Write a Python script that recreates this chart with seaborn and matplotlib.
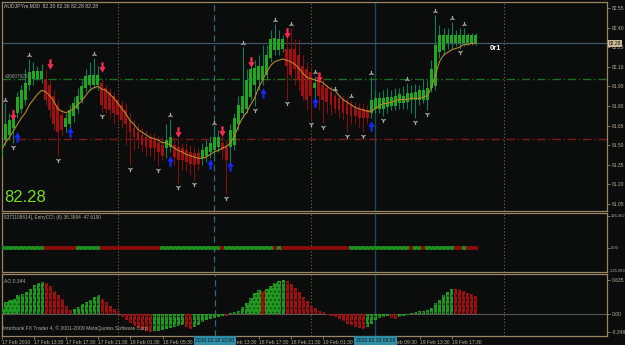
import matplotlib
matplotlib.use("Agg")
import matplotlib.pyplot as plt
from matplotlib.path import Path
from matplotlib.markers import MarkerStyle
from matplotlib import transforms
import seaborn as sns

# ---------------- data ----------------
bar_open = [81.40, 81.54, 81.58, 81.63, 81.75, 81.78, 81.85, 81.96, 82.01, 82.01,
            82.01, 82.01, 81.96, 81.88, 81.81, 81.73, 81.64, 81.66, 81.72, 81.78,
            81.85, 81.94, 81.96, 81.96, 81.96, 81.98, 81.94, 81.91, 81.88, 81.85,
            81.81, 81.77, 81.69, 81.63, 81.60, 81.58, 81.56, 81.56, 81.54, 81.52,
            81.50, 81.48, 81.49, 81.50, 81.49, 81.48, 81.46, 81.45, 81.44, 81.44,
            81.40, 81.42, 81.45, 81.46, 81.49, 81.52, 81.49, 81.49, 81.50, 81.66,
            81.75, 81.78, 81.87, 81.96, 82.00, 82.00, 82.04, 82.17, 82.23, 82.23,
            82.24, 82.24, 82.24, 82.24, 82.19, 82.11, 82.08, 82.06, 81.94, 82.00,
            81.96, 81.94, 81.91, 81.88, 81.86, 81.85, 81.82, 81.81, 81.79, 81.78,
            81.78, 81.77, 81.75, 81.78, 81.78, 81.78, 81.79, 81.80, 81.80, 81.82,
            81.82, 81.83, 81.85, 81.85, 81.85, 81.85, 81.85, 81.94, 81.95, 82.21,
            82.23, 82.28, 82.28, 82.28, 82.28, 82.28, 82.28, 82.28, 82.28]
bar_high = [81.54, 81.82, 81.75, 81.78, 81.91, 81.96, 82.08, 82.16, 82.14, 82.11,
            82.12, 82.08, 82.00, 81.92, 81.85, 81.78, 81.75, 81.81, 81.87, 81.94,
            82.00, 82.08, 82.14, 82.17, 82.11, 82.01, 81.96, 81.94, 81.91, 81.88,
            81.85, 81.82, 81.75, 81.69, 81.66, 81.63, 81.62, 81.59, 81.59, 81.57,
            81.56, 81.66, 81.70, 81.56, 81.54, 81.52, 81.52, 81.50, 81.49, 81.48,
            81.52, 81.54, 81.57, 81.64, 81.62, 81.58, 81.54, 81.66, 81.75, 81.88,
            82.25, 82.08, 82.14, 82.15, 82.19, 82.27, 82.27, 82.38, 82.43, 82.38,
            82.34, 82.40, 82.40, 82.31, 82.31, 82.19, 82.14, 82.11, 82.03, 82.04,
            82.00, 81.97, 81.95, 81.90, 81.89, 81.88, 81.86, 81.85, 81.83, 81.82,
            81.82, 81.81, 82.02, 81.92, 81.91, 81.92, 81.94, 81.92, 81.94, 81.94,
            81.95, 81.98, 81.96, 81.97, 81.96, 82.01, 82.00, 82.15, 82.50, 82.42,
            82.40, 82.40, 82.44, 82.38, 82.40, 82.40, 82.36, 82.36, 82.36]
bar_low = [81.31, 81.50, 81.54, 81.52, 81.71, 81.75, 81.81, 81.92, 81.96, 82.00,
           81.98, 81.81, 81.71, 81.62, 81.42, 81.58, 81.60, 81.62, 81.68, 81.75,
           81.82, 81.91, 81.92, 81.94, 81.92, 81.75, 81.75, 81.71, 81.66, 81.68,
           81.63, 81.50, 81.35, 81.46, 81.48, 81.45, 81.42, 81.42, 81.39, 81.34,
           81.39, 81.40, 81.45, 81.35, 81.21, 81.31, 81.30, 81.27, 81.23, 81.31,
           81.35, 81.37, 81.40, 81.42, 81.45, 81.39, 81.13, 81.35, 81.46, 81.62,
           81.71, 81.75, 81.85, 81.80, 81.92, 81.96, 82.00, 82.14, 82.19, 82.19,
           82.21, 81.85, 82.00, 81.96, 81.92, 81.85, 81.77, 81.69, 81.81, 81.77,
           81.67, 81.75, 81.73, 81.75, 81.71, 81.69, 81.60, 81.66, 81.66, 81.63,
           81.60, 81.66, 81.71, 81.75, 81.75, 81.72, 81.75, 81.77, 81.77, 81.78,
           81.78, 81.78, 81.75, 81.71, 81.81, 81.82, 81.77, 81.91, 81.92, 82.17,
           82.19, 82.24, 82.24, 82.26, 82.24, 82.26, 82.27, 82.27, 82.27]
bar_close = [81.52, 81.66, 81.69, 81.73, 81.87, 81.92, 81.98, 82.06, 82.07, 82.07,
             82.07, 81.85, 81.77, 81.66, 81.60, 81.62, 81.71, 81.77, 81.82, 81.88,
             81.95, 82.03, 82.04, 82.04, 82.04, 81.81, 81.78, 81.77, 81.75, 81.73,
             81.69, 81.66, 81.60, 81.56, 81.54, 81.50, 81.49, 81.48, 81.48, 81.45,
             81.42, 81.54, 81.56, 81.41, 81.39, 81.39, 81.37, 81.36, 81.35, 81.36,
             81.46, 81.49, 81.52, 81.56, 81.56, 81.46, 81.39, 81.62, 81.71, 81.81,
             81.88, 82.00, 82.08, 82.09, 82.11, 82.11, 82.19, 82.31, 82.32, 82.31,
             82.31, 82.11, 82.04, 82.08, 82.00, 81.88, 81.85, 81.88, 81.98, 81.88,
             81.85, 81.83, 81.81, 81.78, 81.77, 81.75, 81.74, 81.72, 81.72, 81.71,
             81.71, 81.71, 81.85, 81.86, 81.86, 81.86, 81.87, 81.87, 81.88, 81.89,
             81.88, 81.90, 81.90, 81.91, 81.92, 81.92, 81.94, 82.08, 82.27, 82.34,
             82.34, 82.34, 82.34, 82.34, 82.34, 82.34, 82.34, 82.34, 82.34]
ma_values = [81.46, 81.52, 81.56, 81.61, 81.66, 81.71, 81.75, 81.81, 81.85, 81.89,
             81.92, 81.91, 81.88, 81.84, 81.78, 81.76, 81.75, 81.76, 81.78, 81.81,
             81.84, 81.88, 81.92, 81.94, 81.95, 81.93, 81.92, 81.89, 81.86, 81.82,
             81.78, 81.74, 81.69, 81.66, 81.62, 81.60, 81.58, 81.56, 81.55, 81.54,
             81.52, 81.52, 81.50, 81.48, 81.46, 81.45, 81.43, 81.42, 81.41, 81.40,
             81.40, 81.41, 81.43, 81.45, 81.46, 81.48, 81.49, 81.52, 81.57, 81.65,
             81.71, 81.75, 81.81, 81.86, 81.94, 82.00, 82.06, 82.11, 82.14, 82.15,
             82.16, 82.15, 82.14, 82.12, 82.09, 82.05, 82.02, 82.01, 82.00, 81.99,
             81.98, 81.95, 81.93, 81.92, 81.88, 81.85, 81.83, 81.81, 81.79, 81.78,
             81.77, 81.76, 81.76, 81.78, 81.80, 81.82, 81.82, 81.83, 81.84, 81.85,
             81.85, 81.85, 81.86, 81.86, 81.86, 81.87, 81.88, 81.94, 82.04, 82.14,
             82.19, 82.21, 82.23, 82.24, 82.25, 82.27, 82.27, 82.28, 82.28]
ao_values = [0.12, 0.23, 0.27, 0.28, 0.35, 0.38, 0.41, 0.47, 0.55, 0.59, 0.61,
             0.58, 0.52, 0.44, 0.35, 0.28, 0.16, 0.08,
             0.09, 0.14, 0.18, 0.23, 0.27, 0.32, 0.35,
             0.28, 0.22, 0.15, 0.10, 0.05,
             -0.05, -0.11, -0.17, -0.22, -0.27, -0.31, -0.33, -0.348,
             -0.33, -0.32, -0.30, -0.28, -0.26, -0.24, -0.22, -0.21,
             -0.24, -0.28,
             -0.24, -0.20, -0.16, -0.12, -0.09, -0.07, -0.05, -0.03,
             -0.04,
             0.01, 0.03, 0.06, 0.13, 0.20, 0.30, 0.40, 0.45,
             0.44,
             0.48, 0.53, 0.58, 0.62, 0.635,
             0.62, 0.56, 0.50, 0.42, 0.33, 0.25, 0.16, 0.11, 0.06, 0.03,
             -0.01, -0.03, -0.06, -0.10, -0.14, -0.18, -0.21, -0.24, -0.26, -0.28,
             -0.24, -0.18, -0.12, -0.08, -0.06, -0.04,
             -0.08, -0.09,
             -0.05, -0.03, -0.01, 0.02, 0.03, 0.05, 0.06, 0.07, 0.12, 0.21, 0.27, 0.35, 0.42, 0.48,
             0.47, 0.45, 0.43, 0.40, 0.37, 0.344]
cci_state = ("GGGGGGGGGGG" "RRRRRRRR" "GGGGGG" "RRRRRRRRRRRRRRR" "GGGGGGGGGGGGGGG"
             "R" "GGGGGGGGGGGG" "R" "G" "RRRRRRRRRRRRRRRRR" "GGGGGGGGGGGGGGG"
             "R" "GG" "R" "GGGGGGG" "RR" "G" "RRR")
up_fractal_bars = [1, 7, 23, 42, 53, 60, 68, 72, 78, 83, 87, 92, 101, 108, 112, 115]
down_fractal_bars = [3, 14, 25, 32, 39, 44, 48, 56, 63, 71, 77, 80, 86, 90, 95, 103, 106, 114]
sell_arrow_bars = [3, 12, 25, 44, 55, 62, 71, 79]
sell_arrow_prices = [81.73, 82.12, 82.10, 81.60, 81.61, 82.14, 82.36, 82.02]
buy_arrow_bars = [4, 17, 42, 52, 57, 65, 78, 92]
buy_arrow_prices = [81.56, 81.60, 81.38, 81.36, 81.34, 81.90, 81.83, 81.65]

# labels at bars 48 and 88 lie under the highlighted time boxes, so they are omitted
time_tick_bars = [0, 8, 16, 24, 32, 40, 56, 64, 72, 80, 96, 104, 112]
time_tick_labels = ["17 Feb 2010", "17 Feb 13:30", "17 Feb 17:30", "17 Feb 21:30",
                    "18 Feb 01:30", "18 Feb 05:30", "18 Feb 13:30",
                    "18 Feb 17:30", "18 Feb 21:30", "19 Feb 01:30",
                    "19 Feb 09:30", "19 Feb 13:30", "19 Feb 17:30"]
price_ticks = [82.55, 82.40, 82.25, 82.10, 81.95, 81.80, 81.65, 81.50, 81.35, 81.20, 81.05]
day_separator_bars = [29, 77, 125]
marker_line_bars = [53, 93]
marker_line_labels = ["2010.02.18 12:00", "2010.02.19 08:00"]
green_level = 82.01
red_level = 81.55
last_price = 82.28
cci_ticks = [126.462, 0.0]
cci_tick_labels = ["126.462", "0.00"]
cci_min_label = "-225.069"
ao_ticks = [0.635, 0.0, -0.348]
ao_tick_labels = ["0.635", "0.00", "-0.348"]

# ---------------- style ----------------
BG = "#0b0c0c"
FRAME = "#9a8464"
TXT = "#b4ac9c"
BULL, BEAR = "#1fa81f", "#a30f0f"
BULL_W, BEAR_W = "#127a55", "#7a1212"

sns.set_theme(style="dark", rc={"axes.facecolor": BG, "figure.facecolor": BG,
                                "axes.edgecolor": FRAME, "axes.grid": False})
plt.rcParams['font.family'] = ['Liberation Sans', 'DejaVu Sans']
plt.rcParams['hatch.linewidth'] = 0.6

W, H = 625, 345
fig = plt.figure(figsize=(W / 100, H / 100), dpi=100)


def frac(x0, y0, x1, y1):
    return [x0 / W, 1 - y1 / H, (x1 - x0) / W, (y1 - y0) / H]


ax = fig.add_axes(frac(2, 2, 607, 211))
ax_cci = fig.add_axes(frac(2, 213, 607, 272))
ax_ao = fig.add_axes(frac(2, 274, 607, 336))

n = len(bar_close)
bars = list(range(n))
XL = (0.17, 150.67)

for a in (ax, ax_cci, ax_ao):
    a.set_facecolor(BG)
    a.set_xlim(*XL)
    for s in a.spines.values():
        s.set_color(FRAME)
        s.set_linewidth(0.9)
    a.yaxis.tick_right()
    a.tick_params(axis='y', colors=FRAME, labelcolor=TXT, labelsize=3.6,
                  length=2, width=0.6, pad=1.2, right=True, left=False)
    a.tick_params(axis='x', bottom=False, labelbottom=False)
    for b in day_separator_bars:
        a.axvline(b, color="#7a6446", lw=0.8, ls=(0, (1, 2)), zorder=1)
    a.axvline(marker_line_bars[0], color="#2b6a80", lw=0.9, ls=(0, (5, 3)), zorder=1)
    a.axvline(marker_line_bars[1], color="#1b4a56", lw=1.0, zorder=1)

# ---- main price panel ----
ax.set_ylim(80.997, 82.596)
ax.set_yticks(price_ticks)
ax.set_yticklabels([f"{p:.2f}" for p in price_ticks])
ax.axhline(last_price, color="#3c5868", lw=0.9, zorder=1)
ax.axhline(green_level, color="#1a701a", lw=1.0, ls=(0, (6, 2, 1, 2)), zorder=1)
ax.axhline(red_level, color="#7e1a1a", lw=1.0, ls=(0, (6, 2, 1, 2)), zorder=1)

bull = [c >= o for o, c in zip(bar_open, bar_close)]
ax.vlines(bars, bar_low, bar_high, colors=[BULL_W if b else BEAR_W for b in bull],
          lw=0.8, zorder=2)
ax.bar(bars, [abs(c - o) for o, c in zip(bar_open, bar_close)],
       bottom=[min(o, c) for o, c in zip(bar_open, bar_close)], width=0.72,
       color=[BULL if b else BEAR for b in bull], linewidth=0, zorder=3)

sns.lineplot(x=bars, y=ma_values, color="#b8882a", lw=0.8, ax=ax, zorder=4)

ax.scatter(up_fractal_bars, [bar_high[i] + 0.03 for i in up_fractal_bars],
           marker='2', s=14, color="#a6a6a6", linewidths=0.9, zorder=5)
ax.scatter(down_fractal_bars, [bar_low[i] - 0.03 for i in down_fractal_bars],
           marker='1', s=14, color="#a6a6a6", linewidths=0.9, zorder=5)

down_verts = [(-0.22, 1.0), (0.22, 1.0), (0.22, 0.05), (0.62, 0.05), (0.0, -1.0),
              (-0.62, 0.05), (-0.22, 0.05), (-0.22, 1.0)]
codes = [Path.MOVETO] + [Path.LINETO] * 6 + [Path.CLOSEPOLY]
down_arrow = MarkerStyle(Path(down_verts, codes))
up_arrow = MarkerStyle(Path([(x, -y) for x, y in down_verts], codes))
sns.scatterplot(x=sell_arrow_bars, y=sell_arrow_prices, marker=down_arrow, s=55,
                color="#ff2a50", linewidth=0, ax=ax, zorder=6)
sns.scatterplot(x=buy_arrow_bars, y=buy_arrow_prices, marker=up_arrow, s=55,
                color="#1428ff", linewidth=0, ax=ax, zorder=6)

ax.text(1.003, last_price, f"{last_price:.2f}",
        transform=transforms.blended_transform_factory(ax.transAxes, ax.transData),
        ha='left', va='center', fontsize=3.6, color="#101010", zorder=10, clip_on=False,
        bbox=dict(boxstyle='square,pad=0.25', fc="#cbb994", ec='none'))

fig.text(4 / W, 1 - 5.5 / H, "AUDJPYm,M30  82.30 82.36 82.28 82.28", fontsize=3.7,
         color="#c8c2b4", va='center', ha='left')
fig.text(5 / W, 1 - 76 / H, "#36607920", fontsize=3.4, color="#9a9a9a", va='center')
fig.text(4 / W, 1 - 197 / H, "82.28", fontsize=12, color="#74e01c", va='center')
fig.text(490 / W, 1 - 48 / H, "0r1", fontsize=5.5, color="white", weight='bold', va='center')

# ---- CCI panel ----
ax_cci.set_ylim(-95, 138)
ax_cci.set_yticks(cci_ticks)
ax_cci.set_yticklabels(cci_tick_labels)
ax_cci.tick_params(axis='y', labelsize=3.0, pad=1.0)
cci_cols = ["#1e8e1e" if s == "G" else "#8e0b0b" for s in cci_state]
cci_hatch = ["#0d4a0d" if s == "G" else "#4a0505" for s in cci_state]
for i, (fc, hc) in enumerate(zip(cci_cols, cci_hatch)):
    ax_cci.bar(i, 13, bottom=-6.5, width=1.0, color=fc, edgecolor=hc, hatch='....',
               linewidth=0, zorder=3)
ax_cci.text(1.005, 0.02, cci_min_label, transform=ax_cci.transAxes, fontsize=2.9,
            color=TXT, va='center', ha='left', clip_on=False)
ax_cci.text(0.003, 0.92, "8371108614], EntryCCI: (6) 36.3864 -47.6190",
            transform=ax_cci.transAxes, fontsize=3.4, color=TXT, va='center')

# ---- AO panel ----
ax_ao.set_ylim(-0.416, 0.756)
ax_ao.set_yticks(ao_ticks)
ax_ao.set_yticklabels(ao_tick_labels)
ax_ao.axhline(0, color="#555555", lw=0.8, zorder=2)
ao_up = [True] + [ao_values[i] > ao_values[i - 1] for i in range(1, n)]
for i, (v, u) in enumerate(zip(ao_values, ao_up)):
    ax_ao.bar(i, v, width=0.78, color="#1f991f" if u else "#a01010",
              edgecolor="#0b3f0b" if u else "#430606", hatch='....', linewidth=0, zorder=3)
ax_ao.text(0.003, 0.88, "AO 0.344", transform=ax_ao.transAxes, fontsize=3.6, color=TXT, va='center')
ax_ao.text(0.002, 0.12, "Interbank FX Trader 4, \u00a9 2001-2009 MetaQuotes Software Corp.",
           transform=ax_ao.transAxes, fontsize=3.6, color=TXT, va='center')

ax_ao.set_xticks(time_tick_bars)
ax_ao.set_xticklabels(time_tick_labels)
ax_ao.tick_params(axis='x', bottom=True, labelbottom=True, colors=FRAME, labelcolor=TXT,
                  labelsize=3.6, length=2, width=0.6, pad=1)
for lab in ax_ao.get_xticklabels():
    lab.set_ha('left')

btrans = transforms.blended_transform_factory(ax_ao.transData, ax_ao.transAxes)
for b, lab in zip(marker_line_bars, marker_line_labels):
    ax_ao.text(b, -0.075, lab, transform=btrans, ha='center', va='center', fontsize=3.6,
               color="#0c1a20", zorder=10, clip_on=False,
               bbox=dict(boxstyle='square,pad=0.35', fc="#2f8da4", ec='none'))

fig.savefig("out.png", dpi=100, facecolor=BG)
